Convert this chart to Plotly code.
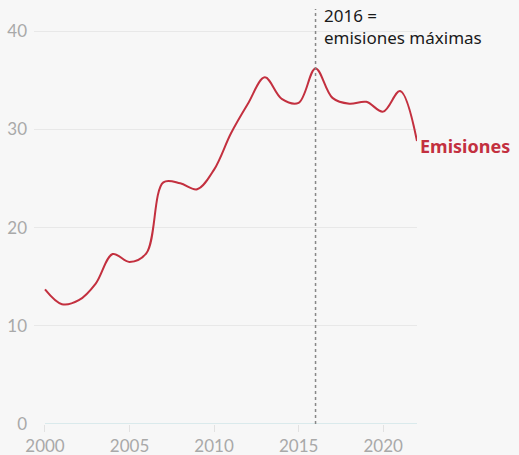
import plotly.graph_objects as go

years = list(range(2000, 2023))
emisiones = [13.7, 12.2, 12.6, 14.3, 17.3, 16.5, 17.4, 24.6, 24.5, 23.9,
             25.9, 29.6, 32.6, 35.3, 33.1, 32.7, 36.2, 33.2, 32.6, 32.8,
             31.8, 33.9, 28.8]
peak_year = 2016
peak_label = ["2016 =", "emisiones máximas"]
series_label = "Emisiones"
y_ticks = [0, 10, 20, 30, 40]
x_ticks = [2000, 2005, 2010, 2015, 2020]

RED = "#c3303f"
GRAY_TXT = "#a9a9a9"
FONT = "Lato"
ANN_FONT = "Noto Sans"

fig = go.Figure()
fig.add_trace(go.Scatter(
    x=years, y=emisiones, mode="lines",
    line=dict(color=RED, width=2, shape="spline", smoothing=1),
    hoverinfo="skip", showlegend=False,
))

fig.add_shape(type="line", xref="x", yref="y", x0=years[0], x1=years[-1], y0=0, y1=0,
              line=dict(color="#bcdde0", width=1), layer="above")
fig.add_shape(type="line", xref="x", yref="paper", x0=peak_year, x1=peak_year, y0=0, y1=1,
              line=dict(color="#888888", width=1.5, dash="dot"))

fig.add_annotation(x=peak_year, y=1, xref="x", yref="paper", xanchor="left", yanchor="top",
                   text="<br>".join(peak_label), showarrow=False, align="left", borderpad=0,
                   xshift=7, yshift=6,
                   font=dict(family=ANN_FONT, size=17, color="#1a1a1a"))
fig.add_annotation(x=years[-1], y=emisiones[-1], xref="x", yref="y", xanchor="left", yanchor="middle",
                   text="<b>" + series_label + "</b>", showarrow=False, xshift=1, yshift=-5,
                   font=dict(family=ANN_FONT, size=18, color=RED))

fig.update_layout(
    width=519, height=455,
    margin=dict(l=34, r=102, t=9, b=31),
    paper_bgcolor="#f7f7f7", plot_bgcolor="#f7f7f7",
    font=dict(family=FONT, color=GRAY_TXT, size=17),
    xaxis=dict(range=[1999.35, 2022], tickvals=x_ticks, showgrid=False, zeroline=False,
               showline=False, ticks="outside", ticklen=7, tickcolor="#e2e2e2", tickwidth=1,
               automargin=False, tickfont=dict(size=17, color=GRAY_TXT)),
    yaxis=dict(range=[0, 42.25], tickvals=y_ticks, showgrid=True, gridcolor="#e8e8e8",
               gridwidth=1, zeroline=False, showline=False, ticks="", ticklabelstandoff=6,
               automargin=False, tickfont=dict(size=17, color=GRAY_TXT)),
)

fig.write_html("out.html", config={"displayModeBar": False},
               post_script="document.body.style.margin='0';document.body.style.background='#f7f7f7';")
